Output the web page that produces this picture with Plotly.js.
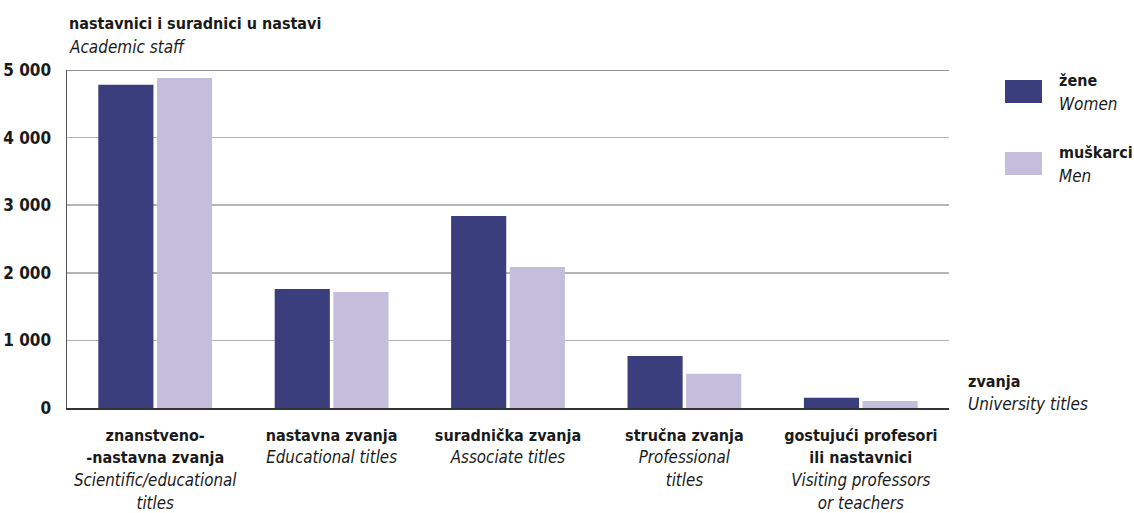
<!DOCTYPE html>
<html>
<head>
<meta charset="utf-8">
<script src="https://cdn.plot.ly/plotly-3.0.1.min.js"></script>
<style>html,body{margin:0;padding:0;background:#fff;}#chart{width:1134px;height:513px;}</style>
</head>
<body>
<div id="chart"></div>
<script>
var categoriesHr = ["znanstveno-<br>-nastavna zvanja", "nastavna zvanja", "suradnička zvanja", "stručna zvanja", "gostujući profesori<br>ili nastavnici"];
var categoriesEn = ["Scientific/educational<br>titles", "Educational titles", "Associate titles", "Professional<br>titles", "Visiting professors<br>or teachers"];
var women = [4780, 1760, 2840, 770, 150];
var men = [4880, 1715, 2085, 505, 105];
var yTickVals = [0, 1000, 2000, 3000, 4000, 5000];
var yTickText = ["0", "1 000", "2 000", "3 000", "4 000", "5 000"];
var seriesHr = ["žene", "muškarci"];
var seriesEn = ["Women", "Men"];
var colors = ["#3a3e7c", "#c4bddb"];

var FONT = "'DejaVu Sans Condensed', 'Liberation Sans Narrow', sans-serif";
var idx = categoriesHr.map(function(_, i){ return i; });
function wrap(s, open, close){ return s.split("<br>").map(function(l){ return open + l + close; }).join("<br>"); }
var tickText = categoriesHr.map(function(c, i){
  return wrap(c, "<b><span style='font-size:16px'>", "</span></b>") + "<br>" +
         wrap(categoriesEn[i], "<i><span style='font-size:16.8px'>", "</span></i>");
});

var traces = [women, men].map(function(vals, k){
  return {
    type: "bar", x: idx, y: vals, name: seriesHr[k],
    marker: {color: colors[k], line: {width: 0}},
    hoverinfo: "y", showlegend: false
  };
});

var annotations = [
  {text: "<b>nastavnici i suradnici u nastavi</b>", x: 67, y: 12, size: 16},
  {text: "<i>Academic staff</i>", x: 67, y: 35, size: 17},
  {text: "<b>zvanja</b>", x: 966, y: 370, size: 16},
  {text: "<i>University titles</i>", x: 966, y: 392, size: 17}
];
seriesHr.forEach(function(s, k){
  annotations.push({text: "<b>" + s + "</b>", x: 1057, y: 69 + k*72, size: 16});
  annotations.push({text: "<i>" + seriesEn[k] + "</i>", x: 1057, y: 92 + k*72, size: 17});
});
var W = 1134, H = 513;
annotations = annotations.map(function(a){
  return {
    text: a.text, xref: "paper", yref: "paper",
    x: (a.x - 67) / (949 - 67), y: (408 - a.y) / (408 - 70),
    xanchor: "left", yanchor: "top", showarrow: false, align: "left",
    font: {family: FONT, size: a.size, color: "#1a1a1a"}
  };
});

var shapes = [
  {type: "line", xref: "paper", yref: "y", x0: 0, x1: 1, y0: 5000, y1: 5000, line: {color: "#6e6e6e", width: 1.5}}
];
colors.forEach(function(c, k){
  shapes.push({type: "rect", xref: "paper", yref: "paper",
    x0: (1005 - 67) / 882, x1: (1042 - 67) / 882,
    y0: (408 - (103 + k*72)) / 338, y1: (408 - (80 + k*72)) / 338,
    fillcolor: c, line: {width: 0}});
});

var layout = {
  width: W, height: H,
  margin: {l: 67, r: 185, t: 70, b: 105, pad: 0},
  paper_bgcolor: "#fff", plot_bgcolor: "#fff",
  barmode: "group", bargap: 0.335, bargroupgap: 0.06,
  font: {family: FONT, size: 16, color: "#1a1a1a"},
  xaxis: {
    range: [-0.5, 4.5], tickvals: idx, ticktext: tickText,
    showgrid: false, zeroline: false, showline: true, linecolor: "#333", linewidth: 1.5,
    ticks: "", tickfont: {family: FONT, size: 17.5, color: "#1a1a1a"}, ticklabelstandoff: 10,
    fixedrange: true
  },
  yaxis: {
    range: [0, 5000], tickvals: yTickVals, ticktext: yTickText,
    showgrid: true, gridcolor: "#b4b4b4", gridwidth: 1.5,
    zeroline: false, showline: true, linecolor: "#555", linewidth: 1.5,
    ticks: "", tickfont: {family: FONT, size: 17, color: "#1a1a1a", weight: "bold"}, ticklabelstandoff: 11,
    fixedrange: true
  },
  annotations: annotations,
  shapes: shapes,
  showlegend: false
};

Plotly.newPlot("chart", traces, layout, {displayModeBar: false, staticPlot: true});
</script>
</body>
</html>
